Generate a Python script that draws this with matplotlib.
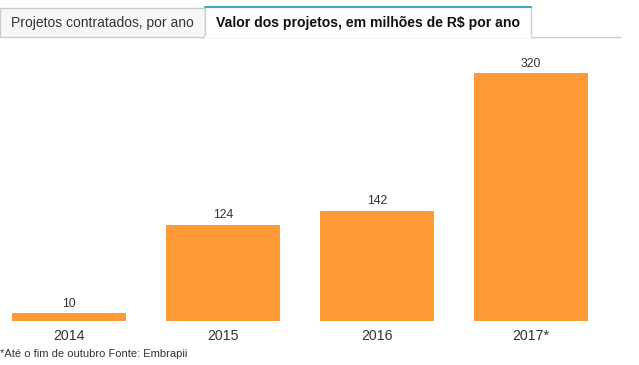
import matplotlib
matplotlib.use("Agg")
import matplotlib.pyplot as plt
from matplotlib.patches import Rectangle
from matplotlib.lines import Line2D

categories = ["2014", "2015", "2016", "2017*"]
values = [10, 124, 142, 320]
tab_labels = ["Projetos contratados, por ano", "Valor dos projetos, em milhões de R$ por ano"]
footer = "*Até o fim de outubro Fonte: Embrapii"

W, H = 639, 365
plt.rcParams['font.family'] = ['Liberation Sans', 'DejaVu Sans']
fig = plt.figure(figsize=(W / 100, H / 100), dpi=100)

def fx(px):
    return px / W

def fy(py):
    return 1 - py / H

# Tabs
fig.patches.append(Rectangle((fx(0), fy(37)), fx(205), (37 - 8) / H, transform=fig.transFigure,
                             facecolor="#f7f7f7", edgecolor="#cccccc", lw=1))
fig.patches.append(Rectangle((fx(205), fy(37)), fx(531 - 205), (37 - 7) / H, transform=fig.transFigure,
                             facecolor="white", edgecolor="#cccccc", lw=1))
fig.lines.append(Line2D([fx(205), fx(531)], [fy(7), fy(7)], transform=fig.transFigure,
                        color="#2a9cc0", lw=1.2))
fig.lines.append(Line2D([fx(205.5), fx(530.5)], [fy(37), fy(37)], transform=fig.transFigure,
                        color="white", lw=1.5))
fig.lines.append(Line2D([fx(531), fx(620)], [fy(37), fy(37)], transform=fig.transFigure,
                        color="#cccccc", lw=1))
fig.text(fx(11), fy(22.5), tab_labels[0], fontsize=10.0, color="#333333", va="center", ha="left")
fig.text(fx(216), fy(22.5), tab_labels[1], fontsize=10.1, color="#111111", va="center", ha="left",
         fontweight="bold")

# Chart
bottom_px, top_px = 321, 45
ax = fig.add_axes([0, fy(bottom_px), 1, (bottom_px - top_px) / H])
x = list(range(len(categories)))
ax.bar(x, values, width=114 / 154, color="#fd9a35")
ax.set_xlim(-69 / 154, (W - 69) / 154)
ax.set_ylim(0, (bottom_px - top_px) / 0.775)
for i, v in zip(x, values):
    ax.annotate(str(v), (i, v), xytext=(0, 2.5), textcoords="offset points",
                ha="center", va="bottom", fontsize=8.8, color="#333333")
ax.set_xticks(x)
ax.set_xticklabels(categories, fontsize=10.2, color="#333333")
ax.tick_params(axis="x", length=0, pad=6)
ax.set_yticks([])
for s in ax.spines.values():
    s.set_visible(False)
ax.patch.set_alpha(0)

fig.text(fx(0), fy(354), footer, fontsize=8.0, color="#333333", va="center", ha="left")

fig.savefig("out.png", dpi=100)
